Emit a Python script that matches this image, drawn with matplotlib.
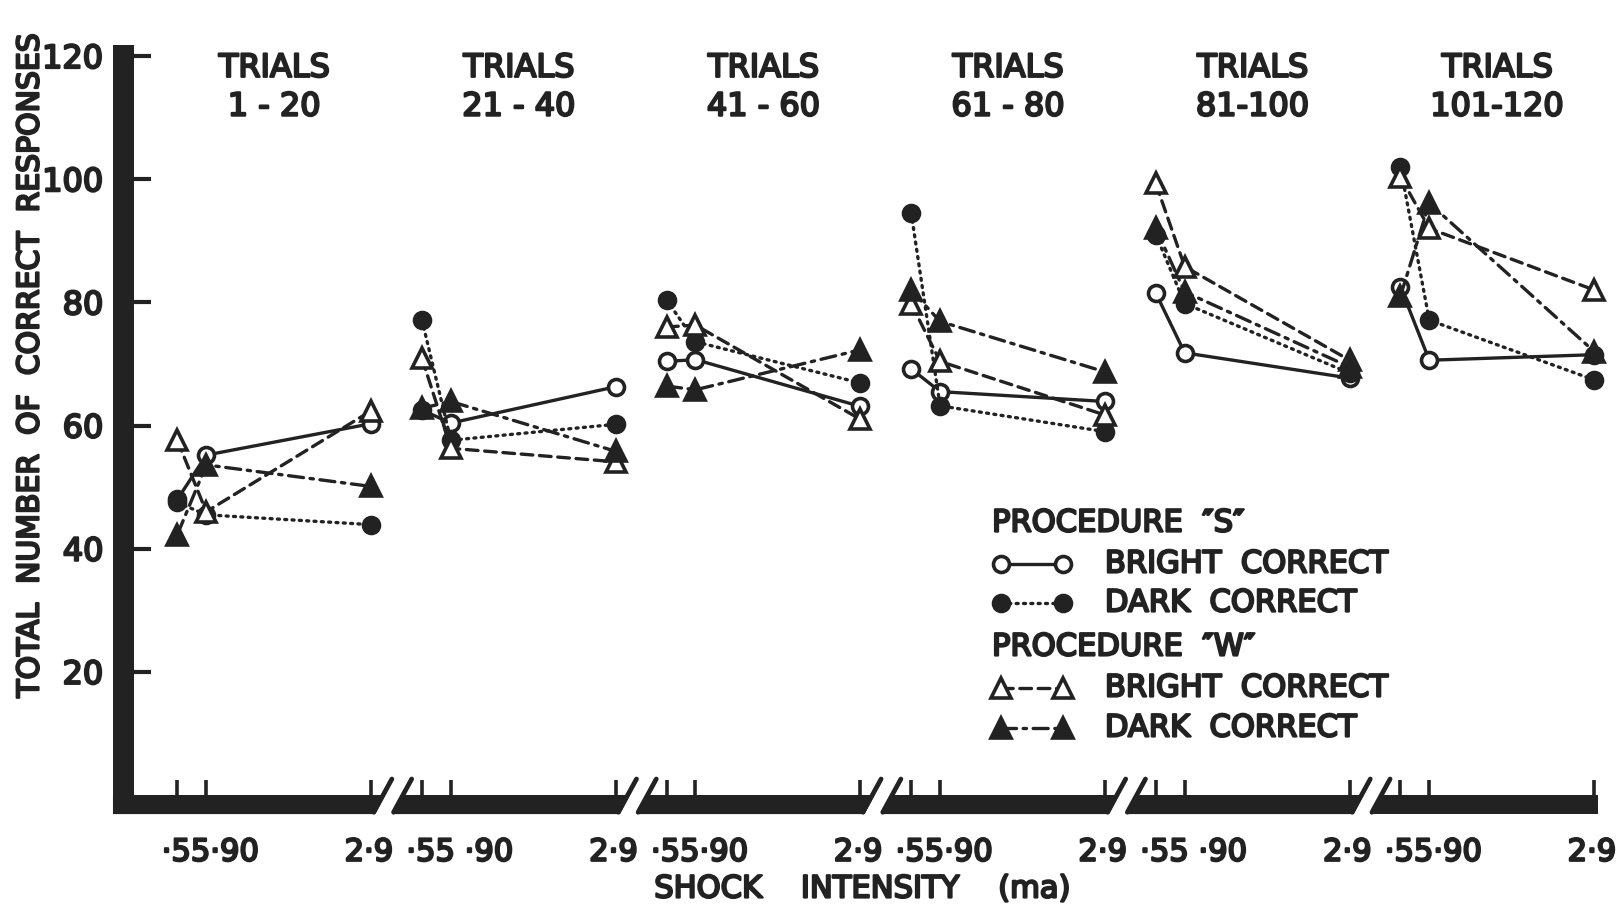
import numpy as np
import matplotlib
matplotlib.use("Agg")
import matplotlib.pyplot as plt
import matplotlib.patheffects as pe
from matplotlib.patches import Polygon, Rectangle
from matplotlib.lines import Line2D

# значения
shock = [0.55, 0.90, 2.9]
blocks = ["1 - 20", "21 - 40", "41 - 60", "61 - 80", "81-100", "101-120"]
low_labels = ["·55·90", "·55 ·90", "·55·90", "·55·90", "·55 ·90", "·55·90"]

s_bright = [[48.0, 55.2, 60.3], [62.5, 60.4, 66.3], [70.4, 70.7, 63.1],
            [69.2, 65.5, 63.9], [81.5, 71.8, 67.7], [82.5, 70.6, 71.5]]
s_dark = [[47.5, 45.5, 43.9], [77.1, 57.6, 60.2], [80.4, 73.6, 66.9],
          [94.5, 63.2, 59.0], [91.0, 79.8, 68.5], [102.0, 77.1, 67.4]]
w_bright = [[57.6, 46.0, 62.4], [70.9, 56.3, 54.1], [76.0, 76.3, 61.0],
            [79.8, 70.4, 61.7], [99.3, 85.8, 70.6], [100.4, 92.0, 82.0]]
w_dark = [[42.3, 53.6, 50.1], [62.8, 63.9, 55.8], [66.4, 65.8, 72.3],
          [82.0, 76.9, 68.7], [92.0, 81.7, 69.5], [81.0, 96.1, 72.0]]

INK = "#222222"
P = 2.965          # сдвиг между блоками по оси x
BAR = 3.1          # толщина нижней полосы в единицах y
XL, XR = 0.024, 17.794
BOLD = [pe.withStroke(linewidth=1.6, foreground=INK)]

plt.rcParams["font.family"] = ["DejaVu Sans"]

fig = plt.figure(figsize=(16.17, 9.09), dpi=100)
ax = fig.add_axes([0.08287, 0.12541, 0.9066, 0.81298])
ax.set_xlim(XL, XR)
ax.set_ylim(0, 120)
for sp in ax.spines.values():
    sp.set_visible(False)

styles = [
    (s_bright, dict(ls="-", marker="o", mfc="white", ms=11.5)),
    (s_dark, dict(ls=(0, (0.6, 1.6)), marker="o", mfc=INK, ms=11.5)),
    (w_bright, dict(ls=(0, (3.5, 2)), marker="^", mfc="white", ms=15)),
    (w_dark, dict(ls=(0, (4.5, 2, 1, 2)), marker="^", mfc=INK, ms=15)),
]

def label(x, y, s, **kw):
    t = ax.text(x, y, s, color=INK, clip_on=False, **kw)
    t.set_path_effects(BOLD)
    return t

for k in range(6):
    xs = k * P + np.array(shock)
    for series, st in styles:
        ax.plot(xs, series[k], color=INK, lw=2.4, mec=INK, mew=2.6,
                dash_capstyle="round", clip_on=False, zorder=3, **st)
    mid = k * P + (shock[0] + shock[2]) / 2
    label(mid, 118.0, "TRIALS", ha="center", va="center", fontsize=23)
    label(mid, 111.7, blocks[k], ha="center", va="center", fontsize=23)
    label(k * P + shock[0] - 0.19, -9.3, low_labels[k], ha="left", va="center",
          fontsize=22)
    label(k * P + shock[2] - 0.03, -9.3, "2·9", ha="center", va="center",
          fontsize=22)

    # нижняя полоса с разрывами
    x29 = k * P + shock[2]
    if k == 0:
        xb0 = xt0 = XL - 0.255
    else:
        xb0 = (k - 1) * P + shock[2] + 0.25
        xt0 = xb0 + 0.12
        ax.plot([xb0 + 0.02, xb0 + 0.24], [-BAR + 0.3, 2.6], color=INK, lw=3.4,
                solid_capstyle="round", clip_on=False)
    if k == 5:
        xb1 = xt1 = x29 + 0.05
    else:
        xb1 = x29 + 0.05
        xt1 = xb1 + 0.12
        ax.plot([xb1 - 0.02, xb1 + 0.2], [-BAR + 0.3, 2.6], color=INK, lw=3.4,
                solid_capstyle="round", clip_on=False)
    ax.add_patch(Polygon([(xb0, -BAR), (xb1, -BAR), (xt1, 0), (xt0, 0)],
                         closed=True, color=INK, clip_on=False, lw=0))

# левая полоса
ax.add_patch(Rectangle((XL - 0.255, -BAR), 0.255, 121.8 + BAR, color=INK,
                       clip_on=False, lw=0))

ax.set_yticks([20, 40, 60, 80, 100, 120])
ax.set_yticklabels(["20", "40", "60", "80", "100", "120"])
ax.tick_params(axis="y", direction="in", length=12, width=3, color=INK,
               pad=22, labelsize=23, labelcolor=INK)
for t in ax.get_yticklabels():
    t.set_path_effects(BOLD)
ax.set_xticks([k * P + s for k in range(6) for s in shock])
ax.set_xticklabels([])
ax.tick_params(axis="x", direction="in", length=11, width=2.6, color=INK)

yl = fig.text(30 / 1617, 1 - 366 / 909, "TOTAL  NUMBER  OF  CORRECT  RESPONSES",
              rotation=90, ha="center", va="center", fontsize=21.5, color=INK)
yl.set_path_effects(BOLD)
xl = fig.text(862 / 1617, 1 - 889 / 909, "SHOCK    INTENSITY    (ma)",
              ha="center", va="center", fontsize=22, color=INK)
xl.set_path_effects(BOLD)

# легенда
lx0, lx1, tx = 0.5853, 0.6398, 0.6623
rows = [0.368, 0.3126, 0.2598, 0.2003, 0.1448, 0.0907]
for y, s in [(rows[0], "PROCEDURE  ″S″"), (rows[3], "PROCEDURE  ″W″")]:
    t = ax.text(lx0, y, s, transform=ax.transAxes, ha="left", va="center",
                fontsize=22, color=INK)
    t.set_path_effects(BOLD)
names = ["BRIGHT  CORRECT", "DARK  CORRECT", "BRIGHT  CORRECT", "DARK  CORRECT"]
for (series, st), y, name in zip(styles, [rows[1], rows[2], rows[4], rows[5]], names):
    ax.add_line(Line2D([lx0 + 0.006, lx1 - 0.006], [y, y], transform=ax.transAxes,
                       color=INK, lw=2.4, mec=INK, mew=2.6, dash_capstyle="round",
                       **st))
    t = ax.text(tx, y, name, transform=ax.transAxes, ha="left", va="center",
                fontsize=22, color=INK)
    t.set_path_effects(BOLD)

fig.savefig("out.png", dpi=100, facecolor="white")
